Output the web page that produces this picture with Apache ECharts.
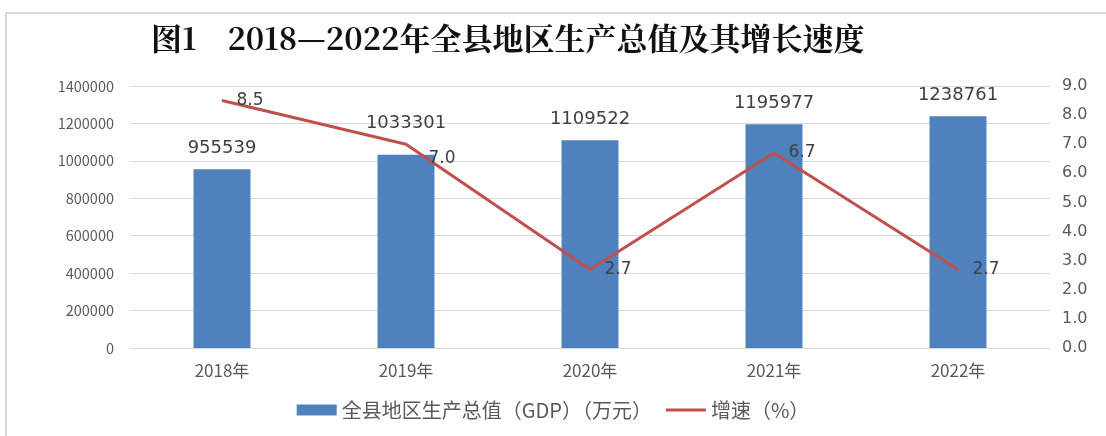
<!DOCTYPE html>
<html><head><meta charset="utf-8">
<script src="https://cdn.jsdelivr.net/npm/echarts@6/dist/echarts.min.js"></script>
<style>
html,body{margin:0;padding:0;background:#fff;}
#frame{position:absolute;left:5px;top:12px;width:1101px;height:424px;border-top:2px solid #d9d9d9;border-left:2px solid #d9d9d9;box-sizing:border-box;}
#c{position:absolute;left:0;top:0;width:1106px;height:436px;}
</style></head>
<body>
<div id="frame"></div>
<div id="c"></div>
<script>
const categories = ['2018年','2019年','2020年','2021年','2022年'];
const gdpValues = [955539, 1033301, 1109522, 1195977, 1238761];
const growthValues = [8.5, 7.0, 2.7, 6.7, 2.7];
const titleText = '图1　2018—2022年全县地区生产总值及其增长速度';
const gdpName = '全县地区生产总值（GDP）（万元）';
const growthName = '增速（%）';

const chart = echarts.init(document.getElementById('c'));
const fontFam = '"Noto Sans CJK SC", "Noto Sans", sans-serif';
const numFont = '"DejaVu Sans", Verdana, sans-serif';

const barData = gdpValues.map((v, i) => i === 1 ? {value: v, label: {distance: 22}} : v);
const lineData = growthValues.map((v, i) => i === 1 ? {value: v, label: {offset: [8, 14]}} : v);

chart.setOption({
  animation: false,
  textStyle: {fontFamily: fontFam},
  title: {
    text: titleText, left: 146, top: 18,
    textStyle: {fontSize: 31, fontWeight: 'bold', color: '#111', fontFamily: '"Noto Serif CJK SC", "Noto Sans CJK SC", serif'}
  },
  legend: {
    bottom: 11, left: 'center', itemWidth: 40, itemHeight: 11, itemGap: 14,
    textStyle: {fontSize: 20, color: '#595959'},
    data: [{name: gdpName, icon: 'rect'}, {name: growthName, icon: 'path://M0,4 L40,4 L40,7 L0,7 Z'}]
  },
  grid: {left: 130, right: 56, top: 86, bottom: 88},
  xAxis: {
    type: 'category', data: categories,
    axisLine: {show: true, lineStyle: {color: '#d9d9d9'}},
    axisTick: {show: false},
    axisLabel: {fontSize: 17, color: '#595959', margin: 14}
  },
  yAxis: [
    {type: 'value', min: 0, max: 1400000, interval: 200000,
     axisLine: {show: false}, axisTick: {show: false},
     axisLabel: {fontSize: 14.5, color: '#595959', margin: 16, formatter: v => String(v)},
     splitLine: {lineStyle: {color: '#d9d9d9'}}},
    {type: 'value', min: 0, max: 9, interval: 1,
     axisLine: {show: false}, axisTick: {show: false},
     axisLabel: {fontSize: 16, color: '#595959', margin: 12, fontFamily: numFont, formatter: v => v.toFixed(1)},
     splitLine: {show: false}}
  ],
  series: [
    {name: gdpName, type: 'bar', data: barData, barWidth: 57,
     itemStyle: {color: '#4f81bd'},
     label: {show: true, position: 'top', distance: 12, fontSize: 18, color: '#404040', fontFamily: numFont}},
    {name: growthName, type: 'line', yAxisIndex: 1, data: lineData,
     symbol: 'circle', symbolSize: 1, showSymbol: true,
     lineStyle: {color: '#c0504d', width: 3}, itemStyle: {color: '#c0504d'},
     label: {show: true, position: 'right', distance: 14, fontSize: 17, color: '#404040', fontFamily: numFont,
       formatter: p => Number(p.value).toFixed(1)}}
  ]
});
</script>
</body></html>
